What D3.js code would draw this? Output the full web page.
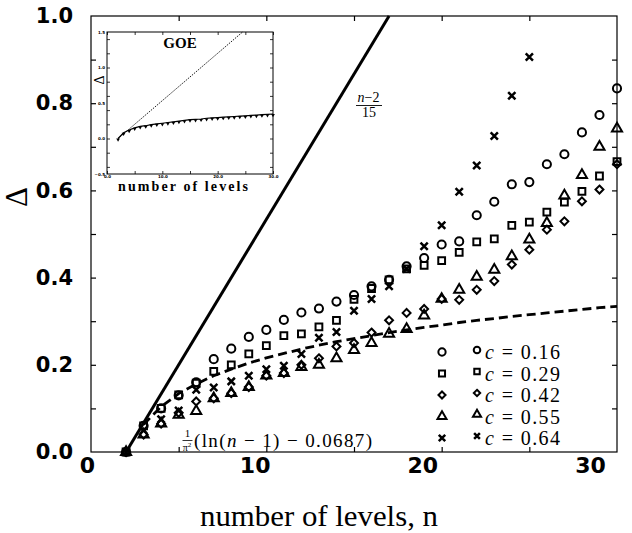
<!DOCTYPE html>
<html>
<head>
<meta charset="utf-8">
<script src="https://cdn.jsdelivr.net/npm/d3@7"></script>
<style>
  body { margin: 0; background: #fff; }
  text { fill: #000; }
</style>
</head>
<body>
<div id="chart"></div>
<script>
// ---- data ----
const levels = [2,3,4,5,6,7,8,9,10,11,12,13,14,15,16,17,18,19,20,21,22,23,24,25,26,27,28,29,30];
const levelsX = [2,3,4,5,6,7,8,9,10,11,12,13,14,15,16,17,18,19,20,21,22,23,24,25];

const c016 = [0, .06, .10, .13, .16, .213, .237, .264, .28, .303, .32, .329, .345, .36, .38, .395, .426, .445, .476, .483, .543, .574, .614, .619, .66, .683, .733, .773, .834];
const c029 = [0, .06, .10, .131, .158, .185, .20, .225, .244, .267, .271, .287, .302, .35, .375, .395, .42, .428, .439, .458, .482, .489, .52, .527, .55, .573, .598, .633, .666];
const c042 = [0, .04, .065, .09, .116, .123, .135, .149, .175, .181, .20, .215, .242, .25, .274, .302, .319, .328, .351, .349, .372, .392, .43, .464, .51, .529, .575, .602, .66];
const c055 = [0, .04, .065, .085, .094, .123, .135, .149, .175, .181, .195, .20, .215, .234, .25, .271, .282, .313, .351, .372, .402, .418, .449, .487, .525, .588, .635, .70, .742];
const c064 = [0, .05, .075, .095, .143, .148, .162, .175, .19, .198, .225, .262, .275, .324, .351, .38, .42, .472, .52, .597, .657, .725, .817, .906];

// dashed curve 1/pi^2 (ln(n-1) - 0.0687), n = 3..30
const curveN = [3,4,5,6,7,8,9,10,11,12,13,14,15,16,17,18,19,20,21,22,23,24,25,26,27,28,29,30];
const curveD = [.063, .104, .134, .156, .175, .190, .204, .216, .226, .236, .245, .253, .260, .267, .274, .280, .286, .291, .297, .302, .306, .311, .315, .319, .323, .327, .331, .334];

// straight line (n-2)/15
const lineN = [2, 17];
const lineD = [0, 1];

// inset (GOE)
const goeD = [0, .08, .12, .15, .17, .18, .195, .205, .215, .225, .235, .245, .255, .265, .27, .275, .285, .29, .295, .30, .305, .31, .315, .32, .325, .33, .335, .34, .345];
const goeLineN = [2, 24.5];
const goeLineD = [0, 1.5];

const xTickLabels = [0, 10, 20, 30];
const yTickLabels = [0, 0.2, 0.4, 0.6, 0.8, 1.0];
const insetXTicks = [0, 10, 20, 30];
const insetYTicks = [-0.5, 0, 0.5, 1.0, 1.5];

const seriesNames = ["0.16", "0.29", "0.42", "0.55", "0.64"];

// ---- chart ----
const W = 632, H = 533;
const svg = d3.select("#chart").append("svg")
    .attr("width", W).attr("height", H);

const x = d3.scaleLinear().domain([0, 30]).range([91, 617]);
const y = d3.scaleLinear().domain([0, 1]).range([452, 16]);
// printed tick labels sit a little off the frame ticks in the original
const xLab = d3.scaleLinear().domain([0, 30]).range([87, 590]);

// frame
svg.append("rect")
   .attr("x", x(0)).attr("y", y(1))
   .attr("width", x(30) - x(0)).attr("height", y(0) - y(1))
   .attr("fill", "none").attr("stroke", "#000").attr("stroke-width", 1.2);

function ticksOnly(g) { g.select(".domain").remove(); g.selectAll("line").attr("stroke", "#000").attr("stroke-width", 1.2); }

svg.append("g").attr("transform", `translate(0,${y(0)})`)
   .call(d3.axisBottom(x).tickValues([5,10,15,20,25]).tickSize(-5).tickFormat(""))
   .call(ticksOnly);
svg.append("g").attr("transform", `translate(0,${y(1)})`)
   .call(d3.axisTop(x).tickValues([5,10,15,20,25]).tickSize(-5).tickFormat(""))
   .call(ticksOnly);
svg.append("g").attr("transform", `translate(${x(0)},0)`)
   .call(d3.axisLeft(y).tickValues(d3.range(1, 10).map(d => d / 10)).tickSize(-5).tickFormat(""))
   .call(ticksOnly);
svg.append("g").attr("transform", `translate(${x(30)},0)`)
   .call(d3.axisRight(y).tickValues(d3.range(1, 10).map(d => d / 10)).tickSize(-5).tickFormat(""))
   .call(ticksOnly);

// tick labels
const xl = svg.append("g").attr("transform", `translate(0,${y(0)})`)
   .call(d3.axisBottom(xLab).tickValues(xTickLabels).tickSize(0).tickPadding(5.5).tickFormat(d3.format("d")));
xl.select(".domain").remove();
xl.selectAll("text").style("font-family", "DejaVu Sans").style("font-weight", "bold").style("font-size", "22px");

const yl = svg.append("g").attr("transform", `translate(${x(0)},0)`)
   .call(d3.axisLeft(y).tickValues(yTickLabels).tickSize(0).tickPadding(18).tickFormat(d3.format(".1f")));
yl.select(".domain").remove();
yl.selectAll("text").style("font-family", "DejaVu Sans").style("font-weight", "bold").style("font-size", "21px");

// axis titles
svg.append("text")
   .attr("x", 319).attr("y", 526)
   .attr("text-anchor", "middle")
   .style("font-family", "Liberation Serif").style("font-size", "29px")
   .attr("textLength", 238).attr("lengthAdjust", "spacingAndGlyphs")
   .text("number of levels, n");

svg.append("text")
   .attr("transform", "translate(27,197) rotate(-90)")
   .attr("text-anchor", "middle")
   .style("font-family", "Liberation Serif").style("font-size", "31px")
   .text("Δ");

// lines
const line = d3.line().x(d => x(d[0])).y(d => y(d[1]));
svg.append("path")
   .datum(lineN.map((n, i) => [n, lineD[i]]))
   .attr("d", line).attr("fill", "none").attr("stroke", "#000").attr("stroke-width", 3);

svg.append("path")
   .datum(curveN.map((n, i) => [n, curveD[i]]))
   .attr("d", line).attr("fill", "none").attr("stroke", "#000")
   .attr("stroke-width", 2.8).attr("stroke-dasharray", "9,5");

// markers
const symbolTypes = [d3.symbolCircle, d3.symbolSquare, d3.symbolDiamond2, d3.symbolTriangle, d3.symbolTimes];
const symbolSizes = [52, 46, 40, 44, 36];
const strokeW = [2, 2, 2, 2, 2.5];
const allSeries = [
  levels.map((n, i) => [n, c016[i]]),
  levels.map((n, i) => [n, c029[i]]),
  levels.map((n, i) => [n, c042[i]]),
  levels.map((n, i) => [n, c055[i]]),
  levelsX.map((n, i) => [n, c064[i]])
];

allSeries.forEach((pts, k) => {
  svg.append("g").selectAll("path")
     .data(pts).enter().append("path")
     .attr("transform", d => `translate(${x(d[0])},${y(d[1])})`)
     .attr("d", d3.symbol().type(symbolTypes[k]).size(symbolSizes[k]))
     .attr("fill", "none").attr("stroke", "#000").attr("stroke-width", strokeW[k]);
});

// annotations
const frac = svg.append("g").style("font-family", "Liberation Serif").style("font-size", "14px");
frac.append("text").attr("x", 368.5).attr("y", 102).attr("text-anchor", "middle")
    .html('<tspan font-style="italic">n</tspan>−2');
frac.append("line").attr("x1", 356).attr("x2", 382).attr("y1", 105.5).attr("y2", 105.5)
    .attr("stroke", "#000").attr("stroke-width", 0.9);
frac.append("text").attr("x", 369).attr("y", 117).attr("text-anchor", "middle").text("15");

const fl = svg.append("g").style("font-family", "Liberation Serif");
fl.append("text").attr("x", 187.5).attr("y", 437).attr("text-anchor", "middle").style("font-size", "11px").text("1");
fl.append("line").attr("x1", 182.5).attr("x2", 192.5).attr("y1", 440.5).attr("y2", 440.5).attr("stroke", "#000").attr("stroke-width", 0.8);
fl.append("text").attr("x", 187).attr("y", 451).attr("text-anchor", "middle").style("font-size", "10px")
  .html('π<tspan dy="-4" font-size="7px">2</tspan>');
fl.append("text").attr("x", 194).attr("y", 447).style("font-size", "19px")
  .attr("textLength", 178).attr("lengthAdjust", "spacing")
  .html('(ln(<tspan font-style="italic">n</tspan> − 1) − 0.0687)');

// legend
const legend = svg.append("g");
seriesNames.forEach((name, k) => {
  const ly = 352 + k * 21.5;
  legend.append("path")
     .attr("transform", `translate(442,${ly})`)
     .attr("d", d3.symbol().type(symbolTypes[k]).size(symbolSizes[k] * 0.8))
     .attr("fill", "none").attr("stroke", "#000").attr("stroke-width", strokeW[k]);
  legend.append("path")
     .attr("transform", `translate(477,${ly - 2})`)
     .attr("d", d3.symbol().type(symbolTypes[k]).size(symbolSizes[k] * 0.65))
     .attr("fill", "none").attr("stroke", "#000").attr("stroke-width", strokeW[k]);
  legend.append("text")
     .attr("x", 485).attr("y", ly + 7)
     .style("font-family", "Liberation Serif").style("font-size", "20px")
     .attr("textLength", 75).attr("lengthAdjust", "spacing")
     .html(`<tspan font-style="italic">c</tspan> = ${name}`);
});

// ---- inset ----
const ix = d3.scaleLinear().domain([0, 30]).range([107, 273]);
const iy = d3.scaleLinear().domain([-0.5, 1.5]).range([174, 32]);
const inset = svg.append("g");
inset.append("rect")
   .attr("x", ix(0)).attr("y", iy(1.5))
   .attr("width", ix(30) - ix(0)).attr("height", iy(-0.5) - iy(1.5))
   .attr("fill", "#fff").attr("stroke", "#000").attr("stroke-width", 1);

function smallTicks(g) { g.select(".domain").remove(); g.selectAll("line").attr("stroke", "#000").attr("stroke-width", 0.8); }
inset.append("g").attr("transform", `translate(0,${iy(-0.5)})`)
   .call(d3.axisBottom(ix).ticks(6).tickSize(-3).tickFormat("")).call(smallTicks);
inset.append("g").attr("transform", `translate(0,${iy(1.5)})`)
   .call(d3.axisTop(ix).ticks(6).tickSize(-3).tickFormat("")).call(smallTicks);
inset.append("g").attr("transform", `translate(${ix(0)},0)`)
   .call(d3.axisLeft(iy).ticks(8).tickSize(-3).tickFormat("")).call(smallTicks);
inset.append("g").attr("transform", `translate(${ix(30)},0)`)
   .call(d3.axisRight(iy).ticks(8).tickSize(-3).tickFormat("")).call(smallTicks);

const ixl = inset.append("g").attr("transform", `translate(0,${iy(-0.5)})`)
   .call(d3.axisBottom(ix).tickValues(insetXTicks).tickSize(0).tickPadding(1).tickFormat(d3.format(".1f")));
ixl.select(".domain").remove();
ixl.selectAll("text").style("font-family", "DejaVu Sans").style("font-weight", "bold").style("font-size", "4px");
const iyl = inset.append("g").attr("transform", `translate(${ix(0)},0)`)
   .call(d3.axisLeft(iy).tickValues(insetYTicks).tickSize(0).tickPadding(2).tickFormat(d3.format(".1f")));
iyl.select(".domain").remove();
iyl.selectAll("text").style("font-family", "DejaVu Sans").style("font-weight", "bold").style("font-size", "4px");

const iline = d3.line().x(d => ix(d[0])).y(d => iy(d[1]));
inset.append("path")
   .datum(goeLineN.map((n, i) => [n, goeLineD[i]]))
   .attr("d", iline).attr("fill", "none").attr("stroke", "#000")
   .attr("stroke-width", 0.9).attr("stroke-dasharray", "1.5,1.2");
inset.append("path")
   .datum(levels.map((n, i) => [n, goeD[i]]))
   .attr("d", iline).attr("fill", "none").attr("stroke", "#000").attr("stroke-width", 1.2);
inset.append("g").selectAll("path")
   .data(levels.map((n, i) => [n, goeD[i]])).enter().append("path")
   .attr("transform", d => `translate(${ix(d[0])},${iy(d[1]) + 1}) rotate(180)`)
   .attr("d", d3.symbol().type(d3.symbolTriangle).size(6))
   .attr("fill", "#000");

inset.append("text")
   .attr("x", 180).attr("y", 48).attr("text-anchor", "middle")
   .style("font-family", "Liberation Serif").style("font-weight", "bold").style("font-size", "15px")
   .text("GOE");
inset.append("text")
   .attr("x", 183).attr("y", 191).attr("text-anchor", "middle")
   .style("font-family", "Liberation Serif").style("font-weight", "bold").style("font-size", "14px")
   .attr("textLength", 130).attr("lengthAdjust", "spacing")
   .text("number of levels");
inset.append("text")
   .attr("transform", "translate(104,80) rotate(-90)")
   .attr("text-anchor", "middle")
   .style("font-family", "Liberation Serif").style("font-size", "14px")
   .text("Δ");
</script>
</body>
</html>
